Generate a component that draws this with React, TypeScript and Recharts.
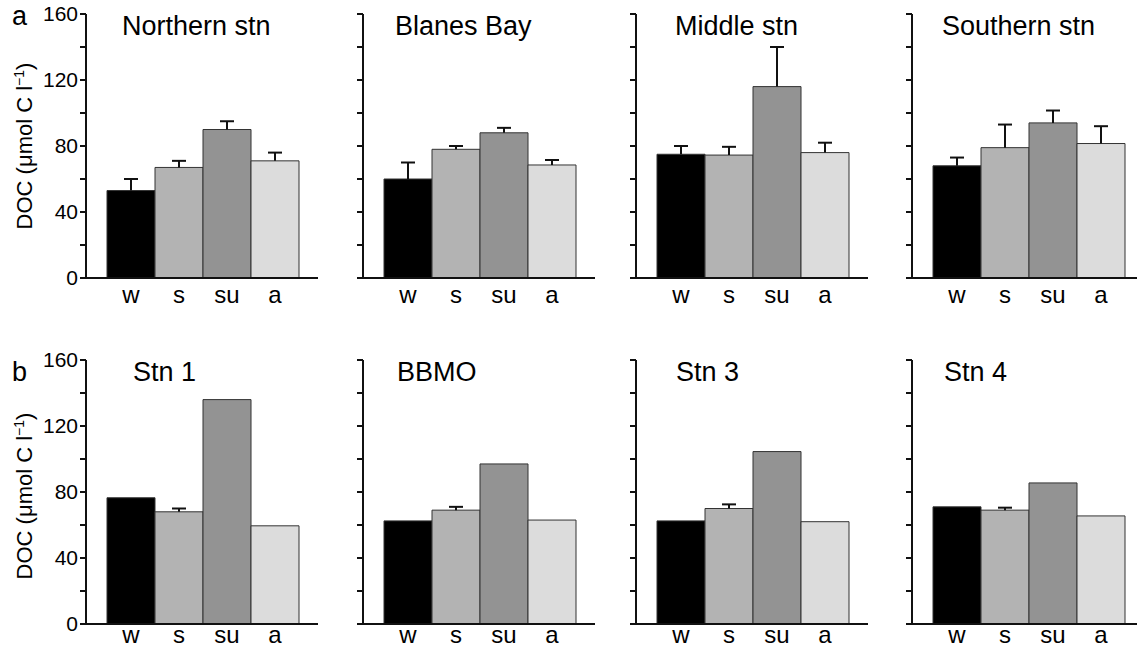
import { BarChart, Bar, XAxis, YAxis, Cell } from "recharts";

const seasons = ["w", "s", "su", "a"];
const seasonColors = ["#000000", "#b3b3b3", "#939393", "#dcdcdc"];

// row a: mean DOC and upward error (µmol C l-1)
const northernStn = [53, 67, 90, 71];
const northernErr = [7, 4, 5, 5];
const blanesBay = [60, 78, 88, 68.5];
const blanesErr = [10, 2, 3, 3];
const middleStn = [75, 74.5, 116, 76];
const middleErr = [5, 5, 24, 6];
const southernStn = [68, 79, 94, 81.5];
const southernErr = [5, 14, 7.5, 10.5];

// row b
const stn1 = [76.5, 68, 136, 59.5];
const stn1Err = [null, 2, null, null];
const bbmo = [62.5, 69, 97, 63];
const bbmoErr = [null, 2, null, null];
const stn3 = [62.5, 70, 104.5, 62];
const stn3Err = [null, 2.5, null, null];
const stn4 = [71, 69, 85.5, 65.5];
const stn4Err = [null, 1.5, null, null];

const yTicks = [0, 20, 40, 60, 80, 100, 120, 140, 160];
const labelledTicks = [0, 40, 80, 120, 160];

const topTitles = ["Northern stn", "Blanes Bay", "Middle stn", "Southern stn"];
const bottomTitles = ["Stn 1", "BBMO", "Stn 3", "Stn 4"];

const FONT = '"Liberation Sans", Arial, Helvetica, sans-serif';
const axisXs = [86, 363, 636, 912];
const topTitleDx = [36, 32, 39, 30];
const bottomTitleDx = [47, 34, 40, 32];
const AXIS_W = 60;
const PLOT_W = 232;
const PLOT_H = 264;

const build = (vals: number[], errs: (number | null)[]) =>
  seasons.map((season, i) => ({ season, v: vals[i], e: errs[i] }));

const Whisker = (props: any) => {
  const { x, y, width, height } = props;
  if (!(height > 0)) return <g />;
  const cx = x + width / 2;
  return (
    <g>
      <line x1={cx} x2={cx} y1={y + height} y2={y} stroke="#111" strokeWidth={2} />
      <line x1={cx - 7} x2={cx + 7} y1={y} y2={y} stroke="#111" strokeWidth={2} />
    </g>
  );
};

function Panel({ data, col, top, tickMargin }: { data: any[]; col: number; top: number; tickMargin: number }) {
  return (
    <div style={{ position: "absolute", left: axisXs[col] - AXIS_W, top }}>
      <BarChart
        width={AXIS_W + PLOT_W}
        height={14 + PLOT_H + 40}
        data={data}
        margin={{ top: 14, right: 0, bottom: 0, left: 0 }}
        barCategoryGap={0}
      >
        <XAxis
          dataKey="season"
          padding={{ left: 21, right: 19 }}
          tickLine={false}
          tickSize={0}
          tickMargin={tickMargin}
          axisLine={{ stroke: "#111", strokeWidth: 2 }}
          tick={{ fontSize: 24, fill: "#000" }}
          height={40}
        />
        <YAxis
          width={AXIS_W}
          domain={[0, 160]}
          ticks={yTicks}
          interval={0}
          tickSize={6}
          tickMargin={2}
          axisLine={{ stroke: "#111", strokeWidth: 2 }}
          tickLine={{ stroke: "#111", strokeWidth: 2 }}
          tick={{ fontSize: 21, fill: "#000" }}
          tickFormatter={(t: number) => (col === 0 && labelledTicks.includes(t) ? String(t) : "")}
        />
        <Bar dataKey="v" stackId="s" stroke="#333" strokeWidth={1} isAnimationActive={false}>
          {data.map((_, i) => (
            <Cell key={i} fill={seasonColors[i]} />
          ))}
        </Bar>
        <Bar dataKey="e" stackId="s" fill="none" shape={Whisker} isAnimationActive={false} />
      </BarChart>
    </div>
  );
}

export default function App() {
  const topRow = [
    build(northernStn, northernErr),
    build(blanesBay, blanesErr),
    build(middleStn, middleErr),
    build(southernStn, southernErr),
  ];
  const bottomRow = [build(stn1, stn1Err), build(bbmo, bbmoErr), build(stn3, stn3Err), build(stn4, stn4Err)];

  return (
    <div style={{ position: "relative", width: 1137, height: 650, overflow: "hidden", background: "#fff", fontFamily: FONT }}>
      <style>{`body{margin:0}`}</style>
      {topRow.map((d, i) => (
        <Panel key={"t" + i} data={d} col={i} top={0} tickMargin={8} />
      ))}
      {bottomRow.map((d, i) => (
        <Panel key={"b" + i} data={d} col={i} top={346} tickMargin={2} />
      ))}
      <svg width={1137} height={650} style={{ position: "absolute", left: 0, top: 0, pointerEvents: "none" }}>
        <g fontFamily={FONT} fill="#000">
          <text x={12} y={25} fontSize={27}>a</text>
          <text x={12} y={381} fontSize={27}>b</text>
          {topTitles.map((t, i) => (
            <text key={t} x={axisXs[i] + topTitleDx[i]} y={35} fontSize={27}>{t}</text>
          ))}
          {bottomTitles.map((t, i) => (
            <text key={t} x={axisXs[i] + bottomTitleDx[i]} y={381} fontSize={27}>{t}</text>
          ))}
          {[146, 496].map((cy) => (
            <text key={cy} transform={`translate(32 ${cy}) rotate(-90)`} textAnchor="middle" fontSize={22}>
              DOC (μmol C l<tspan fontSize={14} dy={-8}>−1</tspan><tspan dy={8}>)</tspan>
            </text>
          ))}
        </g>
      </svg>
    </div>
  );
}
